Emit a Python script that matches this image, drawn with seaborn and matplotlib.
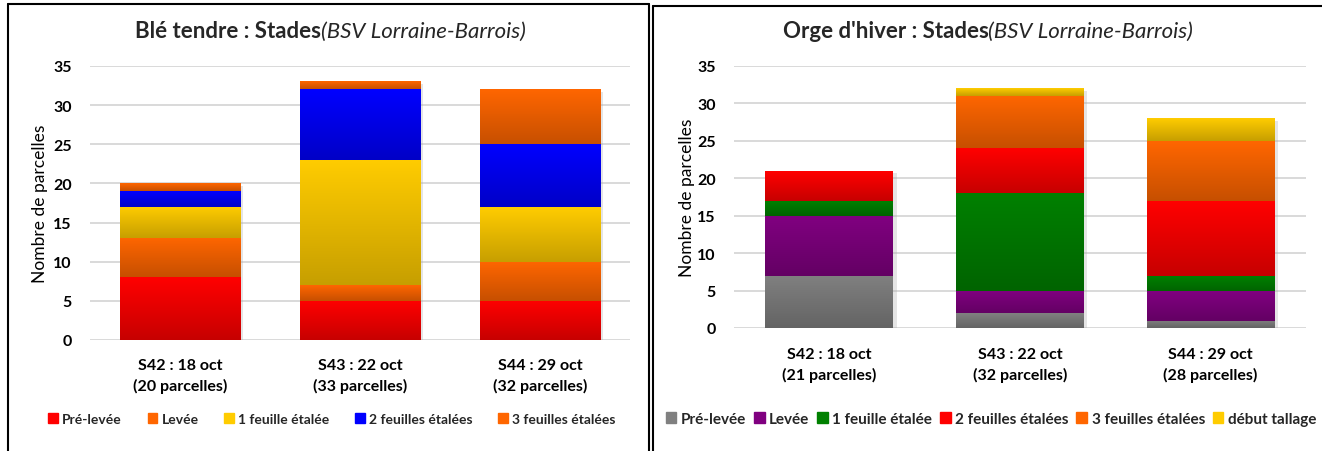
import matplotlib.pyplot as plt
import matplotlib.colors as mcolors
from matplotlib.patches import Patch
from matplotlib.lines import Line2D
import numpy as np
import seaborn as sns

sns.set_theme(style="whitegrid")
plt.rcParams['font.family'] = ['Lato', 'DejaVu Sans']

# Blé tendre
ble_weeks = ['S42 : 18 oct\n(20 parcelles)', 'S43 : 22 oct\n(33 parcelles)', 'S44 : 29 oct\n(32 parcelles)']
ble_stades = ['Pré-levée', 'Levée', '1 feuille étalée', '2 feuilles étalées', '3 feuilles étalées']
ble_pre_levee = [8, 5, 5]
ble_levee = [5, 2, 5]
ble_1_feuille = [4, 16, 7]
ble_2_feuilles = [2, 9, 8]
ble_3_feuilles = [1, 1, 7]
ble_colors = ['#FF0000', '#FF6600', '#FFCC00', '#0000FF', '#FF6600']

# Orge d'hiver
orge_weeks = ['S42 : 18 oct\n(21 parcelles)', 'S43 : 22 oct\n(32 parcelles)', 'S44 : 29 oct\n(28 parcelles)']
orge_stades = ['Pré-levée', 'Levée', '1 feuille étalée', '2 feuilles étalées', '3 feuilles étalées', 'début tallage']
orge_pre_levee = [7, 2, 1]
orge_levee = [8, 3, 4]
orge_1_feuille = [2, 13, 2]
orge_2_feuilles = [4, 6, 10]
orge_3_feuilles = [0, 7, 8]
orge_debut_tallage = [0, 1, 3]
orge_colors = ['#808080', '#800080', '#008000', '#FF0000', '#FF6600', '#FFCC00']


def draw_stacked(ax, weeks, series, colors, width, xpad):
    cum = np.cumsum(np.array(series, dtype=float), axis=0)
    # seaborn bars drawn from the highest cumulative layer down
    for i in range(len(series) - 1, -1, -1):
        sns.barplot(x=weeks, y=cum[i], color=colors[i], width=width,
                    saturation=1, linewidth=0, ax=ax, zorder=2)
    n = len(weeks)
    # vertical gradient per segment (bright top, darker bottom)
    first_layer = ax.patches[:n]
    for j, p in enumerate(first_layer):
        x0, w = p.get_x(), p.get_width()
        # light drop shadow
        ax.fill_between([x0 + w, x0 + w + 0.018], 0, cum[-1][j] - 0.3,
                        color='#AAAAAA', alpha=0.3, lw=0, zorder=1)
        for i in range(len(series)):
            bottom = cum[i - 1][j] if i > 0 else 0
            top = cum[i][j]
            if top - bottom <= 0:
                continue
            c_top = np.array(mcolors.to_rgb(colors[i]))
            c_bot = c_top * 0.78
            grad = np.linspace(0, 1, 64)[:, None, None]
            img = c_top * (1 - grad) + c_bot * grad
            ax.imshow(img, extent=(x0, x0 + w, bottom, top), aspect='auto',
                      origin='upper', zorder=3, interpolation='bilinear')
    ax.set_xlim(-0.5, n - 0.5)
    ax.set_ylim(0, 35)
    ax.set_yticks(range(0, 36, 5))
    ax.grid(axis='y', color='#D9D9D9', linewidth=1.4)
    ax.grid(axis='x', visible=False)
    ax.set_axisbelow(True)
    for s in ax.spines.values():
        s.set_visible(False)
    ax.tick_params(axis='y', labelsize=11.5, pad=13, length=0)
    ax.tick_params(axis='x', labelsize=11.5, pad=xpad, length=0)
    for lab in ax.get_xticklabels() + ax.get_yticklabels():
        lab.set_fontweight('bold')
        lab.set_color('black')
    for lab in ax.get_xticklabels():
        lab.set_linespacing(1.45)
    ax.set_xlabel('')


fig = plt.figure(figsize=(13.22, 4.52), dpi=100)
fig.patch.set_facecolor('white')

ax1 = fig.add_axes([90 / 1322, 111 / 452, 540 / 1322, 274 / 452])
draw_stacked(ax1, ble_weeks,
             [ble_pre_levee, ble_levee, ble_1_feuille, ble_2_feuilles, ble_3_feuilles],
             ble_colors, 0.667, 13)
ax1.set_ylabel('Nombre de parcelles', fontsize=12.5, color='black', labelpad=4)

ax2 = fig.add_axes([734 / 1322, 123 / 452, 572 / 1322, 262 / 452])
draw_stacked(ax2, orge_weeks,
             [orge_pre_levee, orge_levee, orge_1_feuille, orge_2_feuilles,
              orge_3_feuilles, orge_debut_tallage],
             orge_colors, 0.67, 14)
ax2.set_ylabel('Nombre de parcelles', fontsize=12.5, color='black', labelpad=2)


def two_part_title(cx, y, bold_part, italic_part):
    t1 = fig.text(0, y, bold_part, fontsize=16, fontweight='bold', ha='left', va='center')
    t2 = fig.text(0, y, italic_part, fontsize=16, style='italic', ha='left', va='center')
    fig.canvas.draw()
    r = fig.canvas.get_renderer()
    w1 = t1.get_window_extent(r).width / fig.bbox.width
    w2 = t2.get_window_extent(r).width / fig.bbox.width
    x0 = cx - (w1 + w2) / 2
    t1.set_x(x0)
    t2.set_x(x0 + w1)


two_part_title(330 / 1322, 1 - 32 / 452, 'Blé tendre : Stades', '(BSV Lorraine-Barrois)')
two_part_title(988 / 1322, 1 - 32 / 452, "Orge d'hiver : Stades", '(BSV Lorraine-Barrois)')

h1 = [Patch(color=c) for c in ble_colors]
fig.legend(h1, ble_stades, loc='center', bbox_to_anchor=(332 / 1322, 1 - 420 / 452),
           ncol=5, frameon=False, handlelength=0.7, handleheight=0.7,
           handletextpad=0.3, columnspacing=1.85, prop={'size': 10, 'weight': 'bold'})
h2 = [Patch(color=c) for c in orge_colors]
fig.legend(h2, orge_stades, loc='center', bbox_to_anchor=(991 / 1322, 1 - 420 / 452),
           ncol=6, frameon=False, handlelength=0.7, handleheight=0.7,
           handletextpad=0.3, columnspacing=0.5, prop={'size': 11, 'weight': 'bold'})

# panel frames
W, H = 1322, 452
frame_kw = dict(color='black', linewidth=1.5, transform=fig.transFigure)
fig.add_artist(Line2D([8 / W, 8 / W], [0, 1 - 5 / H], **frame_kw))
fig.add_artist(Line2D([8 / W, 649 / W], [1 - 5 / H, 1 - 5 / H], **frame_kw))
fig.add_artist(Line2D([649 / W, 649 / W], [0, 1 - 5 / H], **frame_kw))
fig.add_artist(Line2D([652.5 / W, 652.5 / W], [0, 1 - 7 / H], **frame_kw))
fig.add_artist(Line2D([652.5 / W, 1], [1 - 7 / H, 1 - 7 / H], **frame_kw))

fig.savefig('out.png', dpi=100)
